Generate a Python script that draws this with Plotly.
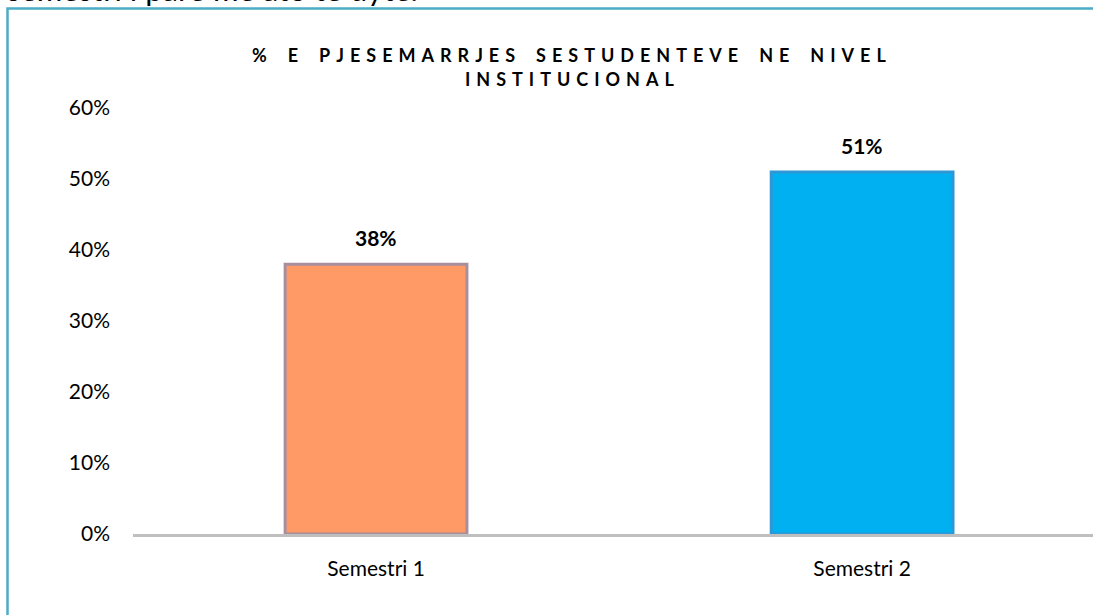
import plotly.graph_objects as go

categories = ["Semestri 1", "Semestri 2"]
values = [0.38, 0.51]
value_labels = ["38%", "51%"]
bar_colors = ["#FF9966", "#00B0F0"]
edge_colors = ["#A88F9E", "#2E98D6"]
y_ticks = [0, 0.1, 0.2, 0.3, 0.4, 0.5, 0.6]
y_tick_labels = ["0%", "10%", "20%", "30%", "40%", "50%", "60%"]
title_lines = ["% E PJESEMARRJES SESTUDENTEVE NE NIVEL", "INSTITUCIONAL"]
top_text = "semestri i pare me ato te dytë."

FONT = "Lato, 'Open Sans', sans-serif"

# plot area in page pixels
L, R, T, B = 133, 0, 108, 81
W, H = 1093, 615
PW = W - L - R
PH = H - T - B


def px(x):
    return (x - L) / PW


def py(y):
    return (H - B - y) / PH


def spaced(s):
    letter_gap = "\u2004"
    word_gap = "\u2004\u2002\u2004"
    return word_gap.join(letter_gap.join(list(w)) for w in s.split(" "))


fig = go.Figure()
fig.add_trace(go.Bar(
    x=categories,
    y=values,
    width=0.374,
    marker=dict(color=bar_colors, line=dict(color=edge_colors, width=3)),
    hoverinfo="skip",
    showlegend=False,
))

annotations = []
for c, v, t in zip(categories, values, value_labels):
    annotations.append(dict(
        x=c, y=v, xref="x", yref="y", text=t, showarrow=False,
        yanchor="bottom", yshift=12,
        font=dict(family=FONT, size=21, color="#000000", weight="bold"),
    ))

title_y = [55, 79]
for line, yy in zip(title_lines, title_y):
    annotations.append(dict(
        x=px(569), y=py(yy), xref="paper", yref="paper",
        text=spaced(line), showarrow=False,
        xanchor="center", yanchor="middle",
        font=dict(family=FONT, size=18, color="#000000", weight="bold"),
    ))

annotations.append(dict(
    x=px(5), y=py(10), xref="paper", yref="paper",
    text=top_text, showarrow=False, xanchor="left", yanchor="bottom",
    font=dict(family=FONT, size=31, color="#000000"),
))

shapes = [dict(
    type="rect", xref="paper", yref="paper",
    x0=px(7.5), x1=px(1110), y0=py(630), y1=py(8.5),
    line=dict(color="#4BACC6", width=2.5), fillcolor="rgba(0,0,0,0)",
    layer="below",
)]

fig.update_layout(
    width=W, height=H,
    margin=dict(l=L, r=R, t=T, b=B, pad=0),
    paper_bgcolor="white", plot_bgcolor="white",
    annotations=annotations,
    shapes=shapes,
    xaxis=dict(
        type="category", range=[-0.5, 1.475],
        showgrid=False, zeroline=False,
        showline=True, linecolor="#BFBFBF", linewidth=3,
        ticks="", ticklabelstandoff=14,
        tickfont=dict(family=FONT, size=21, color="#000000"),
        fixedrange=True,
    ),
    yaxis=dict(
        range=[0, 0.6], tickvals=y_ticks, ticktext=y_tick_labels,
        showgrid=False, zeroline=False, showline=False,
        ticks="", ticklabelstandoff=22,
        tickfont=dict(family=FONT, size=21, color="#000000"),
        fixedrange=True,
    ),
    showlegend=False,
)

fig.write_html(
    "out.html",
    config={"displayModeBar": False},
    post_script="document.body.style.margin='0';document.body.style.overflow='hidden';",
)
